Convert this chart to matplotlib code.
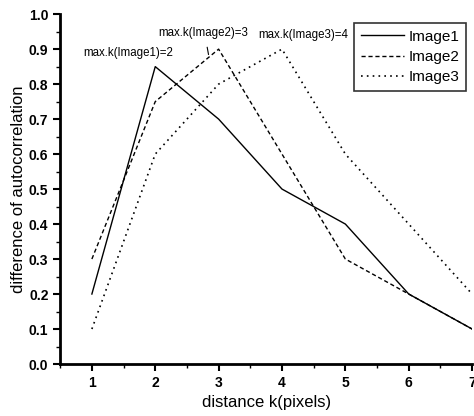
import matplotlib
matplotlib.use("Agg")
import matplotlib.pyplot as plt
from matplotlib.ticker import MultipleLocator

plt.rcParams['font.family'] = ['Liberation Sans', 'DejaVu Sans']

k = [1, 2, 3, 4, 5, 6, 7]
image1 = [0.2, 0.85, 0.7, 0.5, 0.4, 0.2, 0.1]
image2 = [0.3, 0.75, 0.9, 0.6, 0.3, 0.2, 0.1]
image3 = [0.1, 0.6, 0.8, 0.9, 0.6, 0.4, 0.2]
labels = ["Image1", "Image2", "Image3"]
notes = ["max.k(Image1)=2", "max.k(Image2)=3", "max.k(Image3)=4"]

fig = plt.figure(figsize=(4.74, 4.16), dpi=100)
ax = fig.add_axes([0.127, 0.125, 0.869, 0.841])

ax.plot(k, image1, color="black", lw=1.0, ls="-", label=labels[0])
ax.plot(k, image2, color="black", lw=1.0, ls=(0, (3, 2)), label=labels[1])
ax.plot(k, image3, color="black", lw=1.2, ls=(0, (1, 2.5)), label=labels[2])

ax.text(1.58, 0.889, notes[0], fontsize=8.3, ha="center", va="center")
ax.text(2.76, 0.946, notes[1], fontsize=8.3, ha="center", va="center")
ax.text(4.33, 0.94, notes[2], fontsize=8.3, ha="center", va="center")
ax.plot([2.82, 2.84], [0.905, 0.885], color="black", lw=0.8)

ax.set_xlim(0.5, 7)
ax.set_ylim(0, 1.0)
ax.xaxis.set_minor_locator(MultipleLocator(0.5))
ax.yaxis.set_minor_locator(MultipleLocator(0.05))
ax.set_yticks([i / 10 for i in range(11)])
ax.set_yticklabels(["%.1f" % (i / 10) for i in range(11)])
ax.set_xticks(k)

for s in ["top", "right"]:
    ax.spines[s].set_visible(False)
for s in ["left", "bottom"]:
    ax.spines[s].set_linewidth(2.0)
ax.tick_params(which="major", direction="out", length=5, width=1.5, labelsize=10)
ax.tick_params(which="minor", direction="out", length=3, width=1.0)
for t in ax.get_xticklabels() + ax.get_yticklabels():
    t.set_fontweight("bold")

ax.set_xlabel("distance k(pixels)", fontsize=12, labelpad=4)
ax.set_ylabel("difference of autocorrelation", fontsize=12, labelpad=2)

leg = ax.legend(loc="upper right", bbox_to_anchor=(0.985, 0.975), fontsize=11,
                frameon=True, fancybox=False, edgecolor="black",
                handlelength=2.8, handletextpad=0.3, borderpad=0.45,
                labelspacing=0.4, borderaxespad=0)
leg.get_frame().set_linewidth(1.2)

fig.savefig("out.png", dpi=100)
